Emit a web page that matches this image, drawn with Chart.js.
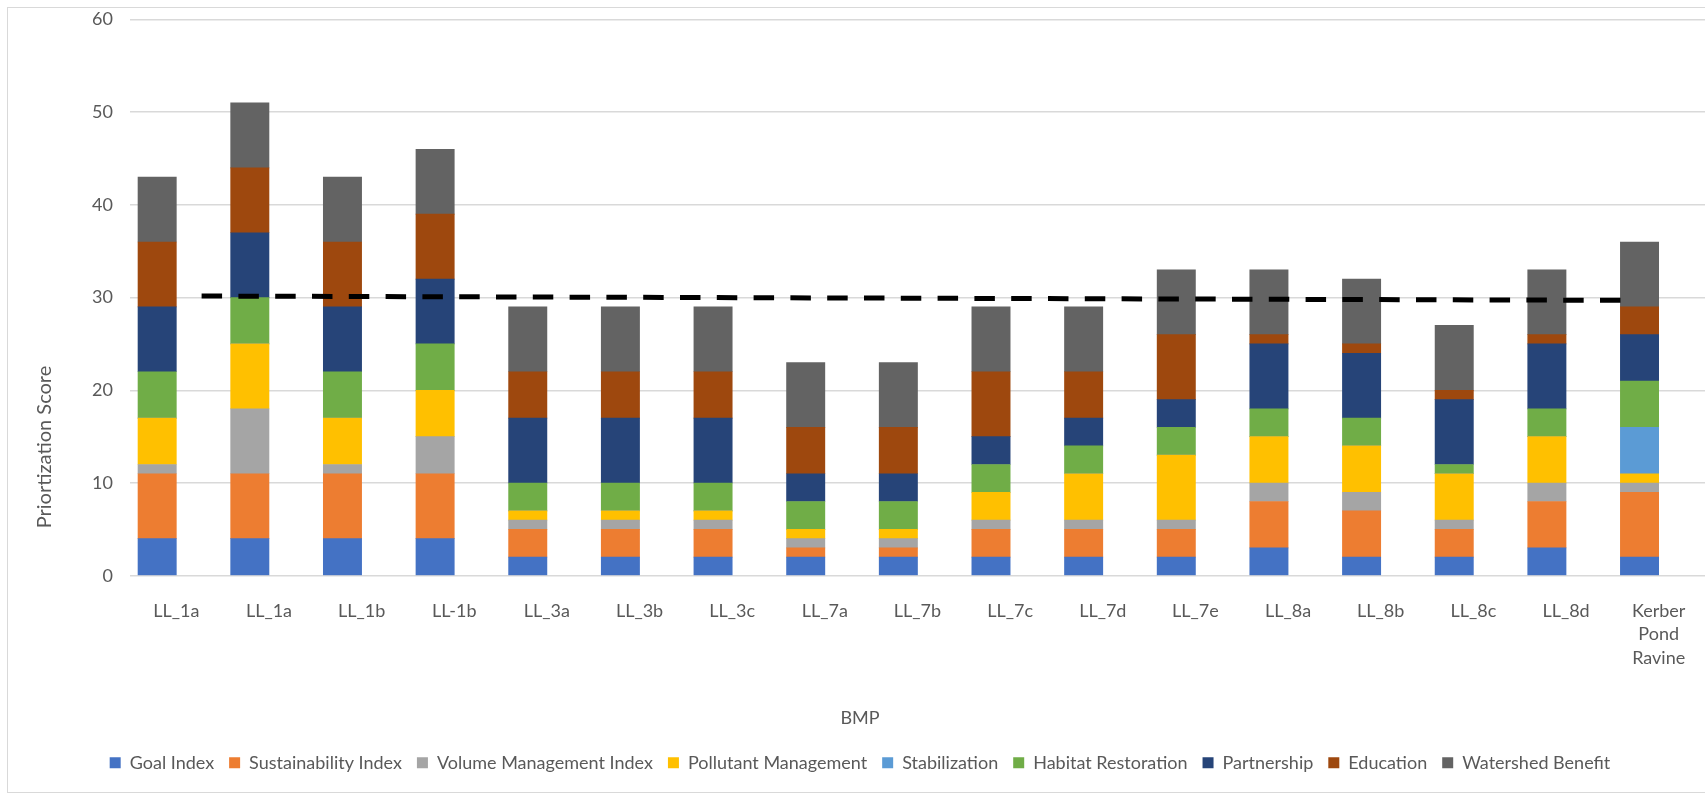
<!DOCTYPE html>
<html>
<head>
<meta charset="utf-8">
<title>BMP Priortization Score</title>
<script src="https://cdn.jsdelivr.net/npm/chart.js@4.4.1/dist/chart.umd.min.js"></script>
<style>
  html, body { margin: 0; padding: 0; background: #ffffff; overflow: hidden; }
  #wrap { position: relative; width: 1705px; height: 793px; }
  #frame { position: absolute; left: 7px; top: 7px; width: 1699px; height: 786px;
           border: 1.5px solid #d9d9d9; box-sizing: border-box; pointer-events: none; }
  canvas { position: absolute; left: 0; top: 0; }
</style>
</head>
<body>
<div id="wrap">
  <canvas id="chart" width="1705" height="793"></canvas>
  <div id="frame"></div>
</div>
<script>
// BMP sites along the x axis
const bmpLabels = ['LL_1a', 'LL_1a', 'LL_1b', 'LL-1b', 'LL_3a', 'LL_3b', 'LL_3c', 'LL_7a', 'LL_7b',
                   'LL_7c', 'LL_7d', 'LL_7e', 'LL_8a', 'LL_8b', 'LL_8c', 'LL_8d', ['Kerber', 'Pond', 'Ravine']];

// Score components, stacked bottom to top
const goalIndex           = [4, 4, 4, 4, 2, 2, 2, 2, 2, 2, 2, 2, 3, 2, 2, 3, 2];
const sustainabilityIndex = [7, 7, 7, 7, 3, 3, 3, 1, 1, 3, 3, 3, 5, 5, 3, 5, 7];
const volumeMgmtIndex     = [1, 7, 1, 4, 1, 1, 1, 1, 1, 1, 1, 1, 2, 2, 1, 2, 1];
const pollutantMgmt       = [5, 7, 5, 5, 1, 1, 1, 1, 1, 3, 5, 7, 5, 5, 5, 5, 1];
const stabilization       = [0, 0, 0, 0, 0, 0, 0, 0, 0, 0, 0, 0, 0, 0, 0, 0, 5];
const habitatRestoration  = [5, 5, 5, 5, 3, 3, 3, 3, 3, 3, 3, 3, 3, 3, 1, 3, 5];
const partnership         = [7, 7, 7, 7, 7, 7, 7, 3, 3, 3, 3, 3, 7, 7, 7, 7, 5];
const education           = [7, 7, 7, 7, 5, 5, 5, 5, 5, 7, 5, 7, 1, 1, 1, 1, 3];
const watershedBenefit    = [7, 7, 7, 7, 7, 7, 7, 7, 7, 7, 7, 7, 7, 7, 7, 7, 7];

// Dashed priority cut-off line: ends in category-index units and score values
const cutoffX = [-0.5, 16.5];
const cutoffY = [30.17, 29.7];

// Y axis ticks
const yMin = 0, yMax = 60, yStep = 10;

const seriesNames = ['Goal Index', 'Sustainability Index', 'Volume Management Index', 'Pollutant Management',
                     'Stabilization', 'Habitat Restoration', 'Partnership', 'Education', 'Watershed Benefit'];
const seriesValues = [goalIndex, sustainabilityIndex, volumeMgmtIndex, pollutantMgmt, stabilization,
                      habitatRestoration, partnership, education, watershedBenefit];
const seriesColors = ['#4472C4', '#ED7D31', '#A5A5A5', '#FFC000', '#5B9BD5',
                      '#70AD47', '#264478', '#9E480E', '#636363'];

const FONT = 'Lato, "Liberation Sans", sans-serif';
const TEXT = '#595959';
const GRID = '#d9d9d9';

const barSets = seriesNames.map((name, i) => ({
  type: 'bar',
  label: name,
  data: seriesValues[i],
  backgroundColor: seriesColors[i],
  borderWidth: 0,
  barThickness: 38.3,
  order: 1
}));

const cutoffSet = {
  type: 'line',
  label: 'cutoff',
  xAxisID: 'xLine',
  data: cutoffX.map((x, i) => ({ x: x, y: cutoffY[i] })),
  borderColor: '#000000',
  borderWidth: 5,
  borderDash: [20.5, 16.3],
  borderCapStyle: 'butt',
  pointRadius: 0,
  fill: false,
  order: 0
};

// Rotated y-axis title
const yTitlePlugin = {
  id: 'yTitle',
  afterDraw(chart, args, opts) {
    const ctx = chart.ctx;
    ctx.save();
    ctx.translate(opts.x, opts.y);
    ctx.rotate(-Math.PI / 2);
    ctx.font = opts.size + 'px ' + FONT;
    ctx.fillStyle = TEXT;
    ctx.textAlign = 'center';
    ctx.textBaseline = 'middle';
    ctx.fillText(opts.text, 0, 0);
    ctx.restore();
  }
};

new Chart(document.getElementById('chart'), {
  type: 'bar',
  data: { labels: bmpLabels, datasets: [...barSets, cutoffSet] },
  plugins: [yTitlePlugin],
  options: {
    responsive: false,
    animation: false,
    devicePixelRatio: 1,
    layout: { padding: { left: 15, right: 0, top: 19.5, bottom: 11.3 } },
    scales: {
      x: {
        stacked: true,
        grid: { display: false },
        border: { display: false },
        ticks: { color: TEXT, padding: 15.5, maxRotation: 0, autoSkip: false,
                 font: { family: FONT, size: 18, lineHeight: 1.3 } }
      },
      xLine: {
        type: 'linear',
        display: false,
        min: cutoffX[0],
        max: cutoffX[1]
      },
      y: {
        stacked: true,
        min: yMin,
        max: yMax,
        afterFit(scale) { scale.width = 115; },
        grid: { color: GRID, lineWidth: 1.5, drawTicks: true, tickLength: 8.3, tickColor: 'rgba(0,0,0,0)' },
        border: { display: false },
        ticks: { stepSize: yStep, color: TEXT, padding: 8.7,
                 font: { family: FONT, size: 18 } }
      }
    },
    plugins: {
      tooltip: { enabled: false },
      yTitle: { text: 'Priortization Score', x: 45, y: 447, size: 20 },
      title: {
        display: true,
        text: 'BMP',
        position: 'bottom',
        weight: 500,
        color: TEXT,
        font: { family: FONT, size: 18, weight: 'normal', lineHeight: 1.2 },
        padding: { top: 22.6, bottom: 9.6 }
      },
      legend: {
        position: 'bottom',
        labels: {
          color: TEXT,
          boxWidth: 11,
          boxHeight: 11,
          padding: 15,
          font: { family: FONT, size: 18 },
          filter: (item) => item.datasetIndex < seriesNames.length
        }
      }
    }
  }
});
</script>
</body>
</html>
